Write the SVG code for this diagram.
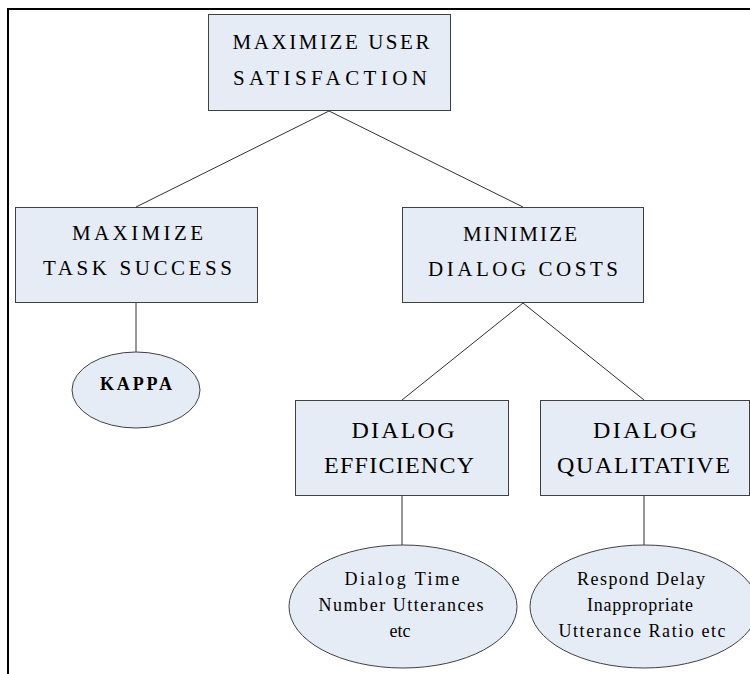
<svg xmlns="http://www.w3.org/2000/svg" width="750" height="674" viewBox="0 0 750 674">
  <style>
    .box { fill: #e6ecf6; stroke: #404040; stroke-width: 1; }
    .oval { fill: #e6ecf6; stroke: #404040; stroke-width: 1; }
    .cap { font-family: "Liberation Serif", "Times New Roman", serif; font-size: 21px; fill: #000; text-anchor: middle; }
    .cap-lg { font-family: "Liberation Serif", "Times New Roman", serif; font-size: 24px; fill: #000; text-anchor: middle; }
    .small { font-family: "Liberation Serif", "Times New Roman", serif; font-size: 18px; fill: #000; text-anchor: middle; }
    .link { stroke: #303030; stroke-width: 1; fill: none; }
  </style>

  <rect width="750" height="674" fill="#ffffff"/>
  <!-- page frame -->
  <path d="M8,674 V9 H750" fill="none" stroke="#000" stroke-width="2"/>

  <g id="connectors">
    <line class="link" x1="329" y1="111" x2="136" y2="207"/>
    <line class="link" x1="329" y1="111" x2="523" y2="207"/>
    <line class="link" x1="136" y1="303" x2="136" y2="352"/>
    <line class="link" x1="523" y1="303" x2="402" y2="400"/>
    <line class="link" x1="523" y1="303" x2="644" y2="400"/>
    <line class="link" x1="402" y1="496" x2="402" y2="545"/>
    <line class="link" x1="644" y1="496" x2="644" y2="545"/>
  </g>

  <g id="user-satisfaction">
    <rect class="box" x="208.5" y="14.5" width="242" height="96"/>
    <text class="cap" x="331" y="49" textLength="197" lengthAdjust="spacing">MAXIMIZE USER</text>
    <text class="cap" x="330" y="85" textLength="194" lengthAdjust="spacing">SATISFACTION</text>
  </g>

  <g id="task-success">
    <rect class="box" x="15.5" y="207.5" width="242" height="95"/>
    <text class="cap" x="137.5" y="240" textLength="131" lengthAdjust="spacing">MAXIMIZE</text>
    <text class="cap" x="137.5" y="275" textLength="189" lengthAdjust="spacing">TASK SUCCESS</text>
  </g>

  <g id="dialog-costs">
    <rect class="box" x="402.5" y="207.5" width="241" height="95"/>
    <text class="cap" x="520" y="241" textLength="114" lengthAdjust="spacing">MINIMIZE</text>
    <text class="cap" x="523" y="276" textLength="190" lengthAdjust="spacing">DIALOG COSTS</text>
  </g>

  <g id="kappa">
    <ellipse class="oval" cx="136" cy="390" rx="64" ry="38"/>
    <text class="small" x="136" y="390" textLength="72" lengthAdjust="spacing" font-size="17" font-weight="bold">KAPPA</text>
  </g>

  <g id="dialog-efficiency">
    <rect class="box" x="295.5" y="400.5" width="213" height="95"/>
    <text class="cap-lg" x="403" y="438" textLength="103" lengthAdjust="spacing">DIALOG</text>
    <text class="cap-lg" x="399" y="473" textLength="150" lengthAdjust="spacing">EFFICIENCY</text>
  </g>

  <g id="dialog-qualitative">
    <rect class="box" x="540.5" y="400.5" width="209" height="95"/>
    <text class="cap-lg" x="645" y="438" textLength="104" lengthAdjust="spacing">DIALOG</text>
    <text class="cap-lg" x="643.5" y="473" textLength="173" lengthAdjust="spacing">QUALITATIVE</text>
  </g>

  <g id="efficiency-measures">
    <ellipse class="oval" cx="403" cy="606.5" rx="114" ry="61.5"/>
    <text class="small" x="402" y="585" textLength="115" lengthAdjust="spacing">Dialog Time</text>
    <text class="small" x="401" y="611" textLength="165" lengthAdjust="spacing">Number Utterances</text>
    <text class="small" x="400" y="637">etc</text>
  </g>

  <g id="qualitative-measures">
    <ellipse class="oval" cx="644" cy="606.5" rx="114" ry="61.5"/>
    <text class="small" x="641" y="585" textLength="128" lengthAdjust="spacing">Respond Delay</text>
    <text class="small" x="640" y="611" textLength="106" lengthAdjust="spacing">Inappropriate</text>
    <text class="small" x="642" y="637" textLength="167" lengthAdjust="spacing">Utterance Ratio etc</text>
  </g>
</svg>
